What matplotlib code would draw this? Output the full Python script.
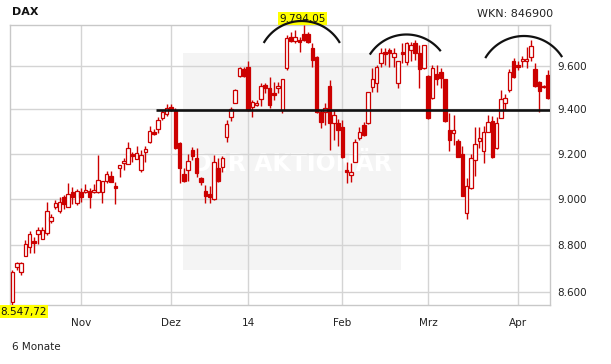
import numpy as np
import matplotlib
matplotlib.use('Agg')
import matplotlib.pyplot as plt
from matplotlib.patches import Rectangle
from matplotlib.lines import Line2D
from matplotlib.ticker import FixedLocator, NullLocator, FuncFormatter
import matplotlib.transforms as mtransforms

# ---- data (DAX, daily, ~6 months: Oct 2013 - Apr 2014) ----
opens = [8561, 8706, 8687, 8755, 8791, 8819, 8847, 8825, 8851, 8905,
         8966, 8949, 9010, 8963, 9029, 8984, 9030, 9030, 9035, 9030,
         9030, 9030, 9080, 9101, 9057, 9135, 9158, 9153, 9200, 9175,
         9128, 9209, 9254, 9299, 9310, 9360, 9378, 9410, 9398, 9247,
         9110, 9128, 9217, 9180, 9091, 9035, 9020, 9000, 9138, 9142,
         9276, 9367, 9431, 9554, 9587, 9598, 9410, 9421, 9447, 9512,
         9497, 9477, 9497, 9398, 9590, 9739, 9718, 9723, 9750, 9750,
         9687, 9643, 9387, 9390, 9508, 9340, 9340, 9322, 9128, 9104,
         9165, 9272, 9329, 9337, 9501, 9520, 9614, 9668, 9676, 9641,
         9524, 9668, 9619, 9676, 9707, 9660, 9590, 9554, 9451, 9564,
         9574, 9540, 9307, 9292, 9257, 9197, 8937, 9047, 9172, 9259,
         9213, 9299, 9347, 9225, 9363, 9428, 9489, 9625, 9606, 9622,
         9622, 9641, 9588, 9528, 9506, 9559]
closes = [8685, 8723, 8723, 8804, 8847, 8811, 8865, 8865, 8947, 8920,
          8981, 8987, 8977, 9022, 9007, 9035, 9008, 9039, 9008, 9039,
          9083, 9079, 9108, 9073, 9050, 9148, 9167, 9224, 9190, 9202,
          9193, 9220, 9302, 9287, 9352, 9387, 9405, 9398, 9224, 9138,
          9079, 9169, 9191, 9113, 9076, 9014, 9009, 9162, 9079, 9180,
          9334, 9401, 9489, 9590, 9554, 9398, 9436, 9431, 9508, 9497,
          9421, 9466, 9508, 9539, 9731, 9718, 9739, 9715, 9723, 9715,
          9629, 9390, 9344, 9405, 9337, 9375, 9307, 9184, 9120, 9118,
          9254, 9299, 9284, 9478, 9539, 9595, 9660, 9657, 9660, 9660,
          9622, 9656, 9707, 9697, 9660, 9585, 9697, 9360, 9590, 9539,
          9543, 9347, 9262, 9307, 9187, 9014, 9057, 9180, 9244, 9272,
          9299, 9342, 9187, 9337, 9449, 9451, 9574, 9551, 9598, 9634,
          9634, 9695, 9509, 9486, 9502, 9451]
highs = [8694, 8730, 8730, 8822, 8861, 8834, 8879, 8879, 8988, 8934,
         8996, 9010, 9017, 9071, 9054, 9043, 9047, 9066, 9048, 9066,
         9194, 9079, 9123, 9123, 9073, 9148, 9182, 9254, 9209, 9235,
         9217, 9235, 9326, 9312, 9367, 9396, 9424, 9425, 9405, 9251,
         9135, 9197, 9229, 9225, 9098, 9061, 9057, 9194, 9181, 9190,
         9352, 9410, 9493, 9598, 9598, 9622, 9444, 9444, 9520, 9520,
         9551, 9528, 9528, 9539, 9746, 9762, 9770, 9739, 9794.05, 9762,
         9707, 9646, 9398, 9429, 9536, 9398, 9356, 9352, 9165, 9158,
         9265, 9322, 9344, 9481, 9590, 9606, 9684, 9684, 9687, 9684,
         9622, 9707, 9715, 9715, 9723, 9699, 9699, 9558, 9606, 9606,
         9590, 9541, 9382, 9375, 9266, 9236, 9091, 9199, 9322, 9322,
         9325, 9375, 9370, 9367, 9489, 9470, 9586, 9638, 9622, 9646,
         9692, 9723, 9614, 9530, 9512, 9582]
lows = [8547.72, 8694, 8672, 8755, 8765, 8765, 8804, 8825, 8844, 8897,
        8954, 8940, 8958, 8963, 8978, 8974, 8988, 9026, 8960, 9026,
        9024, 8983, 9069, 9073, 8978, 9098, 9128, 9153, 9165, 9175,
        9117, 9165, 9246, 9283, 9292, 9352, 9370, 9395, 9222, 9069,
        9073, 9079, 9172, 9096, 9061, 8981, 8981, 8997, 9076, 9120,
        9254, 9349, 9428, 9548, 9551, 9394, 9367, 9415, 9415, 9474,
        9406, 9444, 9474, 9382, 9582, 9713, 9710, 9668, 9718, 9707,
        9598, 9385, 9316, 9329, 9217, 9262, 9236, 9181, 9069, 9076,
        9165, 9262, 9280, 9335, 9482, 9478, 9598, 9606, 9598, 9594,
        9499, 9614, 9605, 9622, 9629, 9497, 9588, 9356, 9449, 9512,
        9497, 9344, 9213, 9239, 9184, 9012, 8911, 9045, 9101, 9225,
        9157, 9297, 9181, 9222, 9360, 9398, 9482, 9543, 9582, 9598,
        9590, 9626, 9501, 9390, 9497, 9447]

month_ticks = [16, 37, 55, 77, 97, 118]
month_labels = ['Nov', 'Dez', '14', 'Feb', 'Mrz', 'Apr']
price_ticks = [8600, 8800, 9000, 9200, 9400, 9600]
support_level = 9398
support_start = 33.5

RED = '#cc0000'
GRID = '#d4d4d4'
W, H = 611, 364

fig = plt.figure(figsize=(W / 100, H / 100), dpi=100)
fig.patch.set_facecolor('white')
ax = fig.add_axes([10 / W, 1 - 305 / H, 540 / W, 280 / H])
ax.set_yscale('log')
n = len(opens)
ax.set_xlim(-0.58, n - 1 + 0.47)
ax.set_ylim(min(lows), max(highs))

# grid
for t in price_ticks:
    ax.axhline(t, color=GRID, lw=1.0, zorder=1)
for t in month_ticks:
    ax.axvline(t, color=GRID, lw=1.0, zorder=1)

# watermark box
ax.add_patch(Rectangle((0.321, 0.125), 0.403, 0.774, transform=ax.transAxes,
                       facecolor='#f4f4f4', edgecolor='none', zorder=0.5))
ax.text(0.523, 0.505, 'DER AKTIONÄR', transform=ax.transAxes, ha='center',
        va='center', fontsize=17, fontweight='bold', color='white', zorder=0.6)

# candles
bw = 0.82
for i in range(n):
    o, c, h, l = opens[i], closes[i], highs[i], lows[i]
    ax.vlines(i, l, h, color=RED, lw=1.0, zorder=3)
    lo, hi = min(o, c), max(o, c)
    up = c > o
    ax.add_patch(Rectangle((i - bw / 2, lo), bw, max(hi - lo, 0.5),
                           facecolor='white' if up else RED,
                           edgecolor=RED, lw=0.9, zorder=4))

# support line
ax.plot([support_start, n - 1 + 0.47], [support_level, support_level],
        color='#111111', lw=1.9, zorder=5, solid_capstyle='butt')

# axes styling
for s in ax.spines.values():
    s.set_color('#c8c8c8')
    s.set_linewidth(1.0)
ax.yaxis.set_major_locator(FixedLocator(price_ticks))
ax.yaxis.set_minor_locator(NullLocator())
ax.yaxis.set_major_formatter(FuncFormatter(lambda v, p: f"{v:,.0f}".replace(',', '.')))
ax.yaxis.set_minor_formatter(FuncFormatter(lambda v, p: ''))
ax.tick_params(axis='y', which='both', left=False, right=False,
               labelleft=False, labelright=True, length=0, pad=5,
               labelsize=7.5, labelcolor='#222222')
ax.set_xticks(month_ticks)
ax.set_xticklabels(month_labels)
ax.tick_params(axis='x', length=0, pad=9, labelsize=7.5, labelcolor='#222222')

# min / max labels
imax = int(np.argmax(highs))
bt = mtransforms.blended_transform_factory(ax.transData, ax.transAxes)
ax.text(imax - 0.4, 1.005, f"{max(highs):,.2f}".replace(',', 'X').replace('.', ',').replace('X', '.'),
        transform=bt, ha='center', va='bottom', fontsize=7.5, color='#111111',
        bbox=dict(boxstyle='square,pad=0.12', fc='#ffff00', ec='none'), zorder=10, clip_on=False)
fig.text(0.5 / W, 1 - 311.5 / H,
         f"{min(lows):,.2f}".replace(',', 'X').replace('.', ',').replace('X', '.'),
         ha='left', va='center', fontsize=7.5, color='#111111',
         bbox=dict(boxstyle='square,pad=0.12', fc='#ffff00', ec='none'), zorder=10)

# arcs (pattern annotation, in pixels)
arcs = [(301.8, 65, 44, 31.5, 148.5), (406.5, 78, 43.5, 39.5, 146), (524, 81, 45, 33.5, 148)]
for cx, cy, R, t1, t2 in arcs:
    th = np.radians(np.linspace(t1, t2, 80))
    px = cx + R * np.cos(th)
    py = cy - R * np.sin(th)
    fig.add_artist(Line2D(px / W, 1 - py / H, transform=fig.transFigure,
                          color='#111111', lw=1.6, zorder=8))

# texts
fig.text(12 / W, 1 - 12 / H, 'DAX', fontsize=8, fontweight='bold', ha='left', va='center', color='#111111')
fig.text(553 / W, 1 - 14 / H, 'WKN: 846900', fontsize=8, ha='right', va='center', color='#222222')
fig.text(12 / W, 1 - 347 / H, '6 Monate', fontsize=7.5, ha='left', va='center', color='#222222')

fig.savefig('out.png', dpi=100)
